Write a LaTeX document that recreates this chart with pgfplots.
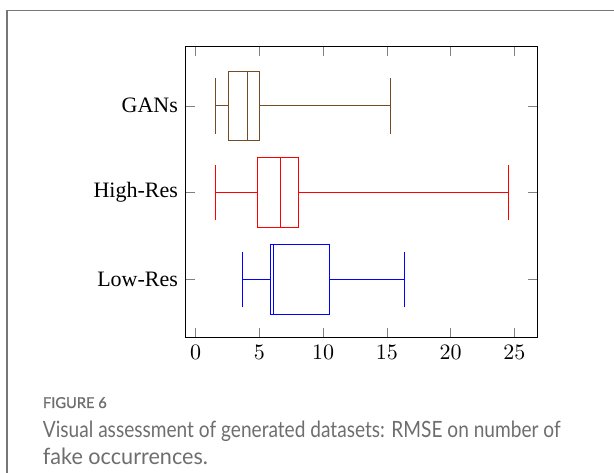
\documentclass[border=0pt]{standalone}
\usepackage{fontspec}
\setmainfont{Liberation Serif}
\newfontfamily\capfont{Lato}
\newfontfamily\capbold[FakeBold=1.2]{Lato}
\usepackage{graphicx}
\usepackage{pgfplots}
\pgfplotsset{compat=1.18}
\usepgfplotslibrary{statistics}
\definecolor{capgray}{HTML}{6E6E6E}
\definecolor{framegray}{HTML}{777777}
\begin{document}
\begin{tikzpicture}
  \useasboundingbox (0,0) rectangle (279.07pt,-214.98pt);
  \begin{scope}[x=0.4545pt,y=-0.4545pt]
    \clip (0,0) rectangle (614,473);
    \draw[framegray,line width=0.5pt] (7,490) -- (7,10.7) -- (630,10.7);
    \node[anchor=base west,inner sep=0pt,text=capgray,font=\capbold\fontsize{6.8}{8}\selectfont]
      at (42.5,408) {\resizebox{29pt}{\height}{FIGURE 6}};
    \node[anchor=base west,inner sep=0pt,text=capgray,font=\capfont\fontsize{10.2}{12}\selectfont]
      at (42.5,437.7) {\resizebox{235.3pt}{\height}{Visual assessment of generated datasets: RMSE on number of}};
    \node[anchor=base west,inner sep=0pt,text=capgray,font=\capfont\fontsize{10.2}{12}\selectfont]
      at (42.5,464.4) {\resizebox{75pt}{\height}{fake occurrences.}};
  \end{scope}
  \begin{axis}[
    at={(84.4pt,-153.5pt)}, anchor=south west,
    scale only axis,
    width=159.8pt, height=132.3pt,
    xmin=-0.78, xmax=26.8,
    ymin=0.33, ymax=3.68,
    xtick={0,5,10,15,20,25},
    ytick={1,2,3},
    yticklabels={Low-Res,High-Res,GANs},
    boxplot/draw direction=x,
  ]
    % Low-Res
    \addplot+[blue, mark=none, boxplot prepared={
        lower whisker=3.66, lower quartile=5.88, median=6.09,
        upper quartile=10.53, upper whisker=16.40}]
      coordinates {};
    % High-Res
    \addplot+[red, mark=none, boxplot prepared={
        lower whisker=1.57, lower quartile=4.86, median=6.69,
        upper quartile=8.10, upper whisker=24.53}]
      coordinates {};
    % GANs
    \addplot+[brown!60!black, mark=none, boxplot prepared={
        lower whisker=1.59, lower quartile=2.56, median=4.05,
        upper quartile=4.99, upper whisker=15.28}]
      coordinates {};
  \end{axis}
\end{tikzpicture}
\end{document}
